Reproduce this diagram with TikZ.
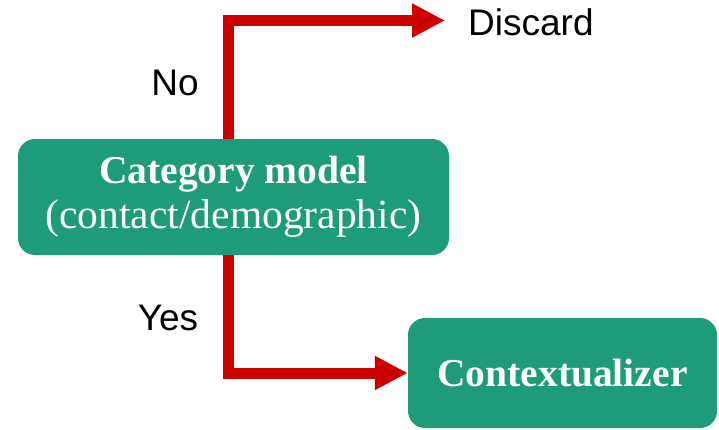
\documentclass[tikz,border=0pt]{standalone}
\usepackage{fontspec}
\setmainfont{Liberation Serif}
\newfontfamily\labelfont{Liberation Sans}
\usetikzlibrary{arrows.meta}
\definecolor{boxgreen}{RGB}{30,155,120}
\definecolor{arrowred}{RGB}{204,0,0}
\begin{document}
\begin{tikzpicture}[x=1pt,y=-1pt,
  box/.style={fill=boxgreen, rounded corners=17pt, text=white, align=center, inner sep=0pt},
  conn/.style={draw=arrowred, line width=11pt, -{Triangle[length=33pt,width=32pt]}},
  lbl/.style={font=\labelfont\fontsize{37}{40}\selectfont, inner sep=0pt}]
\useasboundingbox (0,0) rectangle (719,429);
\node[box, minimum width=431pt, minimum height=116pt, font=\fontsize{39.5}{45}\selectfont] (cat) at (233.5,197) {\textbf{Category model}\\{\fontsize{41.5}{45}\selectfont (contact/demographic)}};
\node[box, minimum width=309pt, minimum height=110pt, font=\fontsize{39.5}{45}\selectfont\bfseries] (ctx) at (562.5,373) {Contextualizer};
\coordinate (dtip) at (445,20.5);
\node[lbl, anchor=base west] (disc) at (468,35) {Discard};
\node[lbl, anchor=base] (no) at (175,95) {No};
\node[lbl, anchor=base] (yes) at (168,330) {Yes};
\draw[conn] ([xshift=-5pt]cat.north) |- (dtip);
\draw[conn] ([xshift=-5pt]cat.south) |- (ctx.west);
\end{tikzpicture}
\end{document}
